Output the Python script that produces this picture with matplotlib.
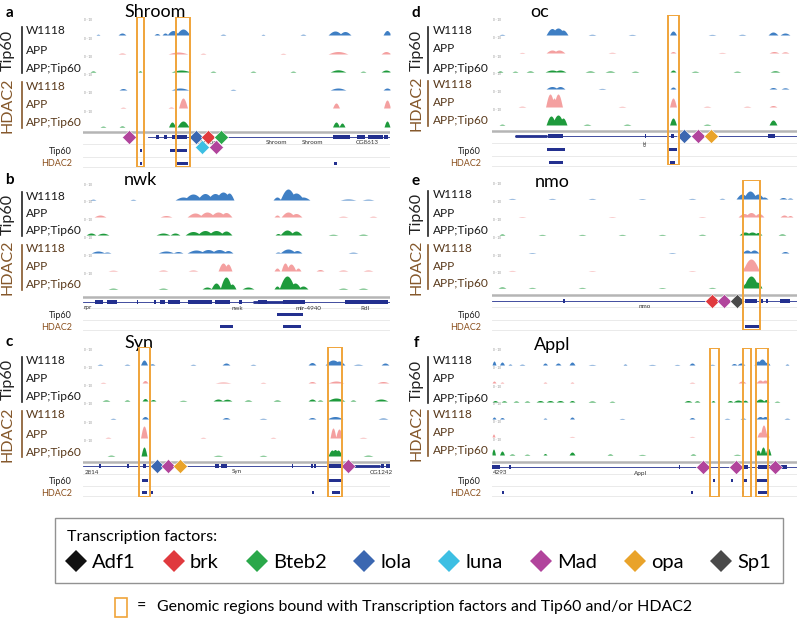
import numpy as np
import matplotlib
matplotlib.use('Agg')
import matplotlib.pyplot as plt
from matplotlib.patches import Rectangle
from matplotlib.lines import Line2D

plt.rcParams['font.family'] = ['Lato', 'DejaVu Sans']

# ---------------------------------------------------------------- data
TRACK_LABELS = ['W1118', 'APP', 'APP;Tip60', 'W1118', 'APP', 'APP;Tip60']
GROUPS = ['Tip60', 'HDAC2']
TF_NAMES = ['Adf1', 'brk', 'Bteb2', 'lola', 'luna', 'Mad', 'opa', 'Sp1']
TF_COLORS = ['#111111', '#e03a3e', '#2aa84a', '#3b67b1', '#3dbfe3', '#b1449c', '#e9a32a', '#4a4a4a']
TRACK_COLORS = ['#3f7fc4', '#f4a0a0', '#1e9a3c', '#3f7fc4', '#f4a0a0', '#1e9a3c']

# peaks: (position kb, half-width kb, signal)
shroom_tracks = [
    [(3.9,0.4,2),(7.4,0.3,1.5),(8.2,0.3,2),(9.0,0.6,4.5),(10.0,0.7,6),(25.2,0.7,4),(26.2,0.6,3.5),(30.4,0.4,4.5),(1.5,0.2,0.8),(14,0.3,0.8),(18,0.2,0.7),(22,0.3,0.8)],
    [(3.9,0.4,1),(9.5,1.0,2),(25.5,1.0,2.5),(30.3,0.5,2.5),(12,0.3,0.8),(20,0.3,0.7)],
    [(1.0,0.3,1),(5.7,0.2,1.2),(9.8,1.0,2),(25.5,0.8,2.2),(30.3,0.5,2),(13,0.3,0.8),(17,0.3,0.8),(21,0.3,0.8),(28,0.3,0.8)],
    [(4.0,0.4,1.5),(9.7,0.9,2),(25.5,0.8,2),(30.4,0.4,2),(15,0.3,0.7)],
    [(10.0,0.45,10),(25.3,0.35,5),(30.4,0.35,8),(4,0.3,0.8),(8.8,0.3,1)],
    [(8.9,0.35,5),(10.0,0.6,6),(25.3,0.35,5),(25.9,0.3,4),(30.4,0.3,6),(3.9,0.3,1),(2,0.3,0.8)],
]
nwk_tracks = [
    [(10.0,0.8,3),(11.0,0.9,6),(12.2,0.8,6.5),(13.2,0.8,6.5),(14.0,0.8,8),(14.6,0.5,7),(19.4,0.4,3),(20.5,0.8,11),(21.3,0.8,7),(22.0,0.7,3),(1,0.3,0.8),(5,0.3,0.7),(26.5,0.8,1),(28.5,0.6,0.8)],
    [(1.7,0.6,2),(8.3,0.6,1.5),(11.2,0.8,4),(12.4,0.8,5),(13.5,0.8,5),(14.3,0.6,4.5),(19.4,0.3,2),(20.5,0.7,5),(21.3,0.6,3.5),(26,0.5,0.8),(29,0.4,0.8)],
    [(0.8,0.5,2),(2.0,0.6,1.8),(8.0,0.7,2),(9.2,0.5,2),(11.0,0.8,3.5),(12.2,0.8,4.5),(13.3,0.8,4.5),(14.3,0.6,4),(20.4,0.7,5),(21.3,0.6,4),(19.5,0.3,1.5),(25,0.5,0.7),(28,0.5,0.8)],
    [(1.5,0.7,2),(2.4,0.4,1),(8.3,0.8,2),(9.5,0.5,1.5),(11.3,0.9,3),(12.5,0.8,3.5),(13.6,0.8,3.5),(14.5,0.5,2.5),(20.5,0.8,4),(21.4,0.5,2.5),(19.5,0.3,1),(27,0.5,0.8)],
    [(14.0,0.5,8),(14.5,0.4,7),(19.4,0.3,3),(20.2,0.4,8),(20.8,0.5,7),(21.5,0.3,3),(23.7,0.4,1.5),(8,0.5,1),(11,0.5,1),(26,0.5,1),(28.5,0.5,1),(3,0.5,0.8)],
    [(12.4,0.5,2),(13.3,0.5,6),(14.3,0.6,12),(14.9,0.4,5),(16.5,0.6,2),(19.4,0.3,3),(20.4,0.8,13),(21.2,0.6,6),(22.0,0.5,3),(3,0.5,0.8),(8,0.5,0.8),(26,0.5,0.8),(28,0.5,0.8)],
]
syn_tracks = [
    [(6.1,0.35,5),(6.9,0.3,1.2),(4.4,0.3,0.8),(1.7,0.3,0.8),(14.3,0.4,2),(22.9,0.4,2.5),(25.0,0.8,5),(25.6,0.6,4),(30.2,0.4,2),(11,0.3,0.7),(17,0.3,0.7),(27.5,0.5,0.8)],
    [(6.2,0.3,2.5),(14.0,0.8,1),(22.9,0.4,1.5),(25.3,0.8,2),(30.0,0.6,1.5),(2,0.3,0.7),(18,0.3,0.7)],
    [(2.3,0.4,1),(6.2,0.3,2.5),(7.0,0.3,1.5),(13.5,0.5,2),(14.4,0.5,1.8),(16.5,0.4,1),(19.4,0.4,1),(22.9,0.4,2),(23.7,0.3,1),(25.3,0.9,3),(27.0,0.3,1),(29.8,0.7,2),(4.4,0.3,1),(10,0.4,0.7)],
    [(6.2,0.35,2.5),(14.3,0.4,1.5),(22.9,0.4,1.5),(25.2,0.8,2.5),(30.0,0.5,1),(3,0.3,0.7),(18,0.4,0.7)],
    [(6.1,0.35,12),(25.0,0.3,10),(25.6,0.35,9),(2.5,0.3,0.8),(12,0.3,0.7),(19,0.3,0.7),(28,0.4,0.7)],
    [(6.1,0.3,9),(24.9,0.4,6),(25.5,0.4,6),(25.2,0.4,6.5),(2.8,0.4,0.8),(13.5,0.5,0.7),(18,0.4,0.7),(28.5,0.5,0.8)],
]
oc_tracks = [
    [(6.0,0.6,6.5),(6.6,0.7,7),(7.1,0.5,5),(18.1,0.35,4),(28.1,0.5,3),(29.3,0.5,2),(1,0.3,0.7),(10,0.4,0.7),(14,0.4,0.6),(22,0.4,0.6),(25,0.4,0.7)],
    [(6.0,0.6,3),(6.7,0.6,3),(18.1,0.3,1.5),(28.2,0.5,1.5),(29.3,0.4,1.2),(3,0.3,0.6),(12,0.4,0.7),(23,0.4,0.6)],
    [(6.0,0.7,2),(6.8,0.6,2),(18.1,0.3,2),(28.3,0.5,1.2),(0.8,0.3,1),(2.3,0.3,0.8),(3.8,0.4,1),(9.8,0.5,1),(11.8,0.5,1),(14.3,0.4,0.8),(20.3,0.4,0.8),(24.5,0.4,0.8)],
    [(6.0,0.6,2.5),(6.8,0.5,2.5),(18.1,0.3,2),(28.1,0.4,1.5),(29.3,0.4,1.2),(11,0.4,0.6)],
    [(5.8,0.45,13),(6.6,0.45,13),(6.2,0.3,9),(18.1,0.35,9),(28.1,0.4,1.5),(3,0.4,0.8),(13,0.4,0.7),(21.5,0.4,0.8),(25.5,0.4,0.8)],
    [(5.9,0.5,9),(6.6,0.6,10),(7.1,0.4,7),(18.1,0.35,7),(28.1,0.4,5),(1,0.3,0.8),(9.5,0.4,0.8),(13.5,0.4,0.8),(21.5,0.4,0.8)],
]
nmo_tracks = [
    [(25.0,0.6,5),(25.8,0.7,8),(26.6,0.6,5),(27.2,0.4,2),(29.1,0.4,1.5),(29.8,0.3,1),(2,0.4,0.6),(6,0.4,0.6),(10,0.4,0.6),(15,0.4,0.5),(20,0.4,0.6),(23,0.3,0.7)],
    [(25.2,0.6,3.5),(25.9,0.6,4.5),(26.7,0.5,3.5),(29.2,0.4,2),(29.8,0.3,1.5),(3,0.4,0.5),(12,0.4,0.5),(21,0.4,0.5)],
    [(25.3,0.6,3),(26.0,0.6,3),(26.6,0.4,2.5),(29.0,0.4,1),(1,0.3,1),(5,0.4,0.6),(9,0.4,0.6),(13,0.4,0.6),(17,0.4,0.6),(21,0.4,0.7)],
    [(25.5,0.5,3),(26.2,0.5,3),(29.3,0.4,1.5),(4,0.4,0.5),(18,0.4,0.5)],
    [(25.9,0.85,12),(25.5,0.5,6),(2,0.4,0.6),(10,0.4,0.5),(20,0.4,0.5)],
    [(25.9,0.8,12),(25.4,0.4,5),(26.5,0.5,6),(1,0.4,1),(4,0.4,0.6),(9,0.4,0.6),(17,0.4,0.5),(22,0.4,0.6)],
]
appl_tracks = [
    [(0.2,0.2,4),(1.0,0.25,3),(1.8,0.2,1),(5.3,0.25,2),(6.6,0.3,2),(8.0,0.3,3),(13.3,0.2,1),(20.0,0.3,2),(24.2,0.3,1.5),(24.9,0.4,2),(26.6,0.4,4),(27.0,0.5,6),(27.5,0.3,3),(29.5,0.2,1),(3,0.3,0.8),(10,0.4,0.6),(16,0.4,0.6),(18.5,0.3,0.6),(22,0.3,0.7)],
    [(0.2,0.2,2),(1.0,0.2,1),(5.3,0.2,1),(8.0,0.2,1),(25.0,0.4,2),(26.8,0.4,3),(27.3,0.4,3),(20,0.3,0.8)],
    [(0.3,0.3,1.5),(1.2,0.3,1.2),(2.4,0.3,1),(3.5,0.3,1),(4.8,0.4,1.5),(5.8,0.4,1.5),(6.8,0.4,1.5),(8.0,0.3,1.5),(10,0.4,1),(12,0.3,0.8),(19.6,0.4,1.5),(20.5,0.3,1.2),(22.1,0.2,1.5),(23.8,0.3,1.5),(24.6,0.5,2),(25.3,0.3,1.8),(26.8,0.5,3),(27.4,0.3,2.5),(28.5,0.3,0.8)],
    [(0.2,0.2,2),(1.0,0.25,1.5),(5.3,0.2,1),(8.0,0.25,2),(20.0,0.3,1.5),(25.1,0.3,1),(26.8,0.4,2.5),(27.3,0.4,2.5),(13,0.3,0.6),(23.5,0.3,0.7),(29.5,0.3,0.8)],
    [(0.15,0.15,3),(26.8,0.3,5),(27.15,0.35,12),(27.5,0.2,4),(8,0.3,0.6),(20,0.3,0.6)],
    [(0.15,0.2,6),(1.0,0.25,4),(2.0,0.3,1),(5.3,0.2,1.5),(8.0,0.3,3),(11.8,0.3,1),(20.1,0.3,1),(26.6,0.3,5),(27.1,0.3,8),(27.6,0.3,7),(3.5,0.3,0.8),(15,0.4,0.6),(24.5,0.4,0.7)],
]

# gene models: exon blocks, thick (UTR) segments, intron line span, names
shroom_exons = [(7.3,7.6),(8.1,8.4),(8.9,10.4),(25.0,26.7),(27.4,28.2),(28.5,30.0),(30.1,30.5)]
nwk_exons = [(1.2,2.0),(2.4,3.4),(5.35,5.45),(7.1,7.3),(7.7,8.2),(8.5,9.7),(10.5,12.9),(13.2,14.7),(15.6,15.9),(17.5,18.4),(20.0,22.2),(26.2,30.5)]
syn_exons = [(1.6,1.8),(4.4,4.6),(6.0,6.3),(13.2,13.6),(13.8,14.4),(20.85,21.0),(22.8,23.0),(23.15,23.3),(24.5,26.0),(29.8,30.1),(30.3,30.7)]
oc_exons = [(5.6,7.1),(15.25,15.4),(17.9,18.2),(27.6,28.3)]
nmo_exons = [(7.05,7.25),(25.3,26.5),(26.9,27.05),(27.4,27.55),(28.8,29.8)]
appl_exons = [(0.0,0.8),(1.7,1.9),(18.7,18.8),(25.1,25.6),(26.6,28.1),(28.4,29.5)]

shroom_utr = []
nwk_utr = [(17.0,20.0)]
syn_utr = [(26.7,29.7)]
oc_utr = [(2.3,5.5)]
nmo_utr = []
appl_utr = []

shroom_span = (6.5, 30.7)
nwk_span = (0.0, 30.7)
syn_span = (0.0, 30.7)
oc_span = (2.3, 30.5)
nmo_span = (0.0, 30.5)
appl_span = (0.0, 30.5)

shroom_names = [('Shroom', 12.6), ('Shroom', 19.4), ('Shroom', 23.0), ('CG8613', 28.4)]
nwk_names = [('rpr', 0.5), ('nwk', 15.4), ('mir-4940', 22.5), ('Rdl', 28.2)]
syn_names = [('2814', 0.9), ('Syn', 15.4), ('CG1242', 29.8)]
oc_names = [('oc', 15.3)]
nmo_names = [('nmo', 15.3)]
appl_names = [('4293', 0.8), ('Appl', 14.8)]

# ChIP-called regions
shroom_tip60 = [(5.7,5.9),(8.7,10.4)]
shroom_hdac2 = [(5.7,5.9),(9.4,10.5),(25.1,25.4)]
nwk_tip60 = [(19.4,22.0)]
nwk_hdac2 = [(13.7,15.0),(20.0,21.8)]
syn_tip60 = [(5.9,6.5),(24.5,26.0)]
syn_hdac2 = [(5.9,6.4),(6.8,7.0),(22.9,23.1),(24.9,25.7)]
oc_tip60 = [(5.5,7.3),(17.7,18.5)]
oc_hdac2 = [(5.7,7.1),(17.8,18.3)]
nmo_tip60 = []
nmo_hdac2 = [(25.3,26.8)]
appl_tip60 = [(22.05,22.25),(23.9,24.05),(25.1,25.5),(26.5,27.5)]
appl_hdac2 = [(1.0,1.15),(19.9,20.05),(25.0,25.15),(26.6,27.5)]

# transcription factor sites: (factor, position kb, stack level)
shroom_tfs = [('Mad',4.6,0),('lola',11.3,0),('brk',12.5,0),('Bteb2',13.8,0),('luna',11.9,1),('Mad',13.3,1)]
nwk_tfs = []
syn_tfs = [('lola',7.4,0),('Mad',8.5,0),('opa',9.7,0),('Mad',26.5,0)]
oc_tfs = [('lola',19.2,0),('Mad',20.6,0),('opa',21.9,0)]
nmo_tfs = [('brk',22.0,0),('Mad',23.2,0),('Sp1',24.5,0)]
appl_tfs = [('Mad',21.1,0),('Mad',24.4,0),('Mad',28.3,0)]

# highlighted regions
shroom_boxes = [(5.4,6.1),(9.3,10.7)]
nwk_boxes = []
syn_boxes = [(5.6,6.7),(24.5,25.9)]
oc_boxes = [(17.6,18.7)]
nmo_boxes = [(25.1,26.8)]
appl_boxes = [(21.8,22.7),(25.1,25.9),(26.4,27.6)]

# ---------------------------------------------------------------- layout (pixels)
W, H = 800, 619
fig = plt.figure(figsize=(W/100, H/100), dpi=100)

ORANGE = '#f0a43a'
NAVY = '#23308f'
BROWN = '#85582b'
BROWN_DARK = '#5a3a1c'

panels = [
    dict(letter='a', title='Shroom', tx=155, ty=12, lx=9, ly=13, L=83, R=390, gx=8, bx=22, labx=26,
         base=[35,54,72,90,108,127], gray=132, gene=137, rows=(150,163), box=(17,167),
         tracks=shroom_tracks, exons=shroom_exons, utr=shroom_utr, span=shroom_span, names=shroom_names,
         tip=shroom_tip60, hd=shroom_hdac2, tfs=shroom_tfs, boxes=shroom_boxes, rot=0),
    dict(letter='b', title='nwk', tx=140, ty=180, lx=9, ly=180, L=83, R=390, gx=8, bx=22, labx=26,
         base=[200,217,235,253,271,289], gray=297, gene=302, rows=(314,326), box=None,
         tracks=nwk_tracks, exons=nwk_exons, utr=nwk_utr, span=nwk_span, names=nwk_names,
         tip=nwk_tip60, hd=nwk_hdac2, tfs=nwk_tfs, boxes=nwk_boxes, rot=0),
    dict(letter='c', title='Syn', tx=139, ty=343, lx=9, ly=342, L=83, R=390, gx=8, bx=22, labx=26,
         base=[365,383,401,419,438,456], gray=462, gene=466, rows=(480,492), box=(347,497),
         tracks=syn_tracks, exons=syn_exons, utr=syn_utr, span=syn_span, names=syn_names,
         tip=syn_tip60, hd=syn_hdac2, tfs=syn_tfs, boxes=syn_boxes, rot=0),
    dict(letter='d', title='oc', tx=540, ty=12, lx=416, ly=13, L=492, R=797, gx=417, bx=428, labx=433,
         base=[35,53,72,89,107,125], gray=131, gene=136, rows=(149,162), box=(15,165),
         tracks=oc_tracks, exons=oc_exons, utr=oc_utr, span=oc_span, names=oc_names,
         tip=oc_tip60, hd=oc_hdac2, tfs=oc_tfs, boxes=oc_boxes, rot=90),
    dict(letter='e', title='nmo', tx=552, ty=182, lx=416, ly=181, L=492, R=797, gx=417, bx=428, labx=433,
         base=[199,217,235,253,271,288], gray=295, gene=301, rows=(313,326), box=(180,330),
         tracks=nmo_tracks, exons=nmo_exons, utr=nmo_utr, span=nmo_span, names=nmo_names,
         tip=nmo_tip60, hd=nmo_hdac2, tfs=nmo_tfs, boxes=nmo_boxes, rot=0),
    dict(letter='f', title='Appl', tx=552, ty=345, lx=416, ly=343, L=492, R=797, gx=417, bx=428, labx=433,
         base=[365,383,402,419,437,455], gray=462, gene=467, rows=(480,492), box=(348,497),
         tracks=appl_tracks, exons=appl_exons, utr=appl_utr, span=appl_span, names=appl_names,
         tip=appl_tip60, hd=appl_hdac2, tfs=appl_tfs, boxes=appl_boxes, rot=0),
]

TH = 17  # track height (px)
KB_PER_PX = 0.1


def px_axes(x, y, w, h, z=1):
    ax = fig.add_axes([x/W, 1-(y+h)/H, w/W, h/H])
    ax.set_axis_off()
    ax.set_zorder(z)
    ax.patch.set_alpha(0)
    return ax


def fx(x):
    return x / W


def fy(y):
    return 1 - y / H


def profile(xs, peaks):
    y = np.zeros_like(xs)
    for c, w, h in peaks:
        d = np.clip(1 - ((xs - c) / w) ** 2, 0, None)
        y = np.maximum(y, h * d ** 1.2)
    return y


for P in panels:
    L, R = P['L'], P['R']
    width_kb = (R - L) * KB_PER_PX
    # titles
    fig.text(fx(P['lx']), fy(P['ly']), P['letter'], fontsize=11, fontweight='bold', ha='center', va='center')
    fig.text(fx(P['tx']), fy(P['ty']), P['title'], fontsize=13, ha='center', va='center')

    # group labels and bars
    for g in range(2):
        top = P['base'][3*g] - 8
        bot = P['base'][3*g+2] + 1
        col = '#222222' if g == 0 else BROWN
        fig.add_artist(Line2D([fx(P['bx'])]*2, [fy(top), fy(bot)], color=col, lw=1.2))
        fig.text(fx(P['gx']), fy((top+bot)/2), GROUPS[g], rotation=90, fontsize=11.5,
                 ha='center', va='center', color=col)

    # coverage tracks
    xs = np.linspace(0, width_kb, 1500)
    for i, peaks in enumerate(P['tracks']):
        b = P['base'][i]
        ax = px_axes(L, b - TH, R - L, TH, z=2)
        ax.set_xlim(0, width_kb)
        ax.set_ylim(0, TH)
        y = profile(xs, peaks)
        ax.fill_between(xs, 0, y, color=TRACK_COLORS[i], lw=0)
        ax.axhline(0.25, color=TRACK_COLORS[i], lw=0.7, alpha=0.85)
        ax.text(0.004, 0.88, '0 - 10', transform=ax.transAxes, fontsize=2.2, color='#888888', va='center')
        lcol = '#1a1a1a' if i < 3 else BROWN_DARK
        fig.text(fx(P['labx']), fy(b - 4), TRACK_LABELS[i], fontsize=8.6, ha='left', va='center', color=lcol)

    # gene model axes (local px units, inverted)
    top = P['gray'] - 3
    bottom = P['rows'][1] + 5
    gax = px_axes(L, top, R - L, bottom - top, z=3)
    gax.set_xlim(0, width_kb)
    gax.set_ylim(bottom - top, 0)
    gy = P['gene'] - top
    gax.axhline(3, color='#b5b5b5', lw=1.8)
    for yy in (P['rows'][0] - top - 6, P['rows'][1] - top - 6, P['rows'][1] - top + 4):
        gax.axhline(yy, color='#e6e6e6', lw=0.6)
    gax.plot(P['span'], [gy, gy], color=NAVY, lw=0.6)
    for s0, s1 in P['utr']:
        gax.plot([s0, s1], [gy, gy], color=NAVY, lw=2.0, solid_capstyle='butt')
    for s0, s1 in P['exons']:
        gax.add_patch(Rectangle((s0, gy - 2), s1 - s0, 4, color=NAVY, lw=0))
    for name, pos in P['names']:
        if P['rot']:
            gax.text(pos, gy + 4, name, rotation=90, fontsize=4.5, ha='center', va='top', color='#333333')
        else:
            gax.text(pos, gy + 6, name, fontsize=4.5, ha='center', va='center', color='#333333')
    for k, regs in enumerate((P['tip'], P['hd'])):
        ry = P['rows'][k] - top
        for s0, s1 in regs:
            gax.add_patch(Rectangle((s0, ry - 1.5), max(s1 - s0, 0.12), 3, color=NAVY, lw=0))
    for name, pos, lev in P['tfs']:
        gax.scatter([pos], [gy + 10 * lev], marker='D', s=52, color=TF_COLORS[TF_NAMES.index(name)],
                    edgecolor='white', linewidth=0.4, zorder=5)

    # Tip60 / HDAC2 row labels
    fig.text(fx(L - 11), fy(P['rows'][0] + 2), 'Tip60', fontsize=6.5, ha='right', va='center', color='#222222')
    fig.text(fx(L - 11), fy(P['rows'][1] + 1), 'HDAC2', fontsize=6.5, ha='right', va='center', color='#8a4f1c')

    # highlight boxes
    if P['box'] is not None:
        bax = px_axes(L, P['box'][0], R - L, P['box'][1] - P['box'][0], z=6)
        bax.set_xlim(0, width_kb)
        bax.set_ylim(0, 1)
        for s0, s1 in P['boxes']:
            bax.add_patch(Rectangle((s0, 0.003), s1 - s0, 0.994, fill=False, edgecolor=ORANGE, lw=1.4))

# ---------------------------------------------------------------- legend
handles = [Line2D([], [], marker='D', ls='none', color=c, markersize=11.5, markeredgewidth=0) for c in TF_COLORS]
leg = fig.legend(handles, TF_NAMES, ncol=8, loc='lower left',
                 bbox_to_anchor=(fx(55), fy(583), (783 - 55) / W, 61 / H), mode='expand',
                 title='Transcription factors:', alignment='left', fontsize=14.5, title_fontsize=11.5,
                 frameon=True, fancybox=False, edgecolor='#777777', handlelength=0.9,
                 handletextpad=0.35, borderaxespad=0, borderpad=0.6, columnspacing=1.0,
                 labelspacing=0.2)
leg.get_frame().set_linewidth(1.0)
leg._legend_box.sep = 7

fig.add_artist(Rectangle((fx(115), fy(617)), 12 / W, 19 / H, fill=False, edgecolor=ORANGE, lw=1.2,
                         transform=fig.transFigure))
fig.text(fx(137), fy(607), '=', fontsize=11.5, ha='left', va='center')
fig.text(fx(157), fy(607), 'Genomic regions bound with Transcription factors and Tip60 and/or HDAC2',
         fontsize=11.4, ha='left', va='center')

fig.savefig('out.png', dpi=100, facecolor='white')
